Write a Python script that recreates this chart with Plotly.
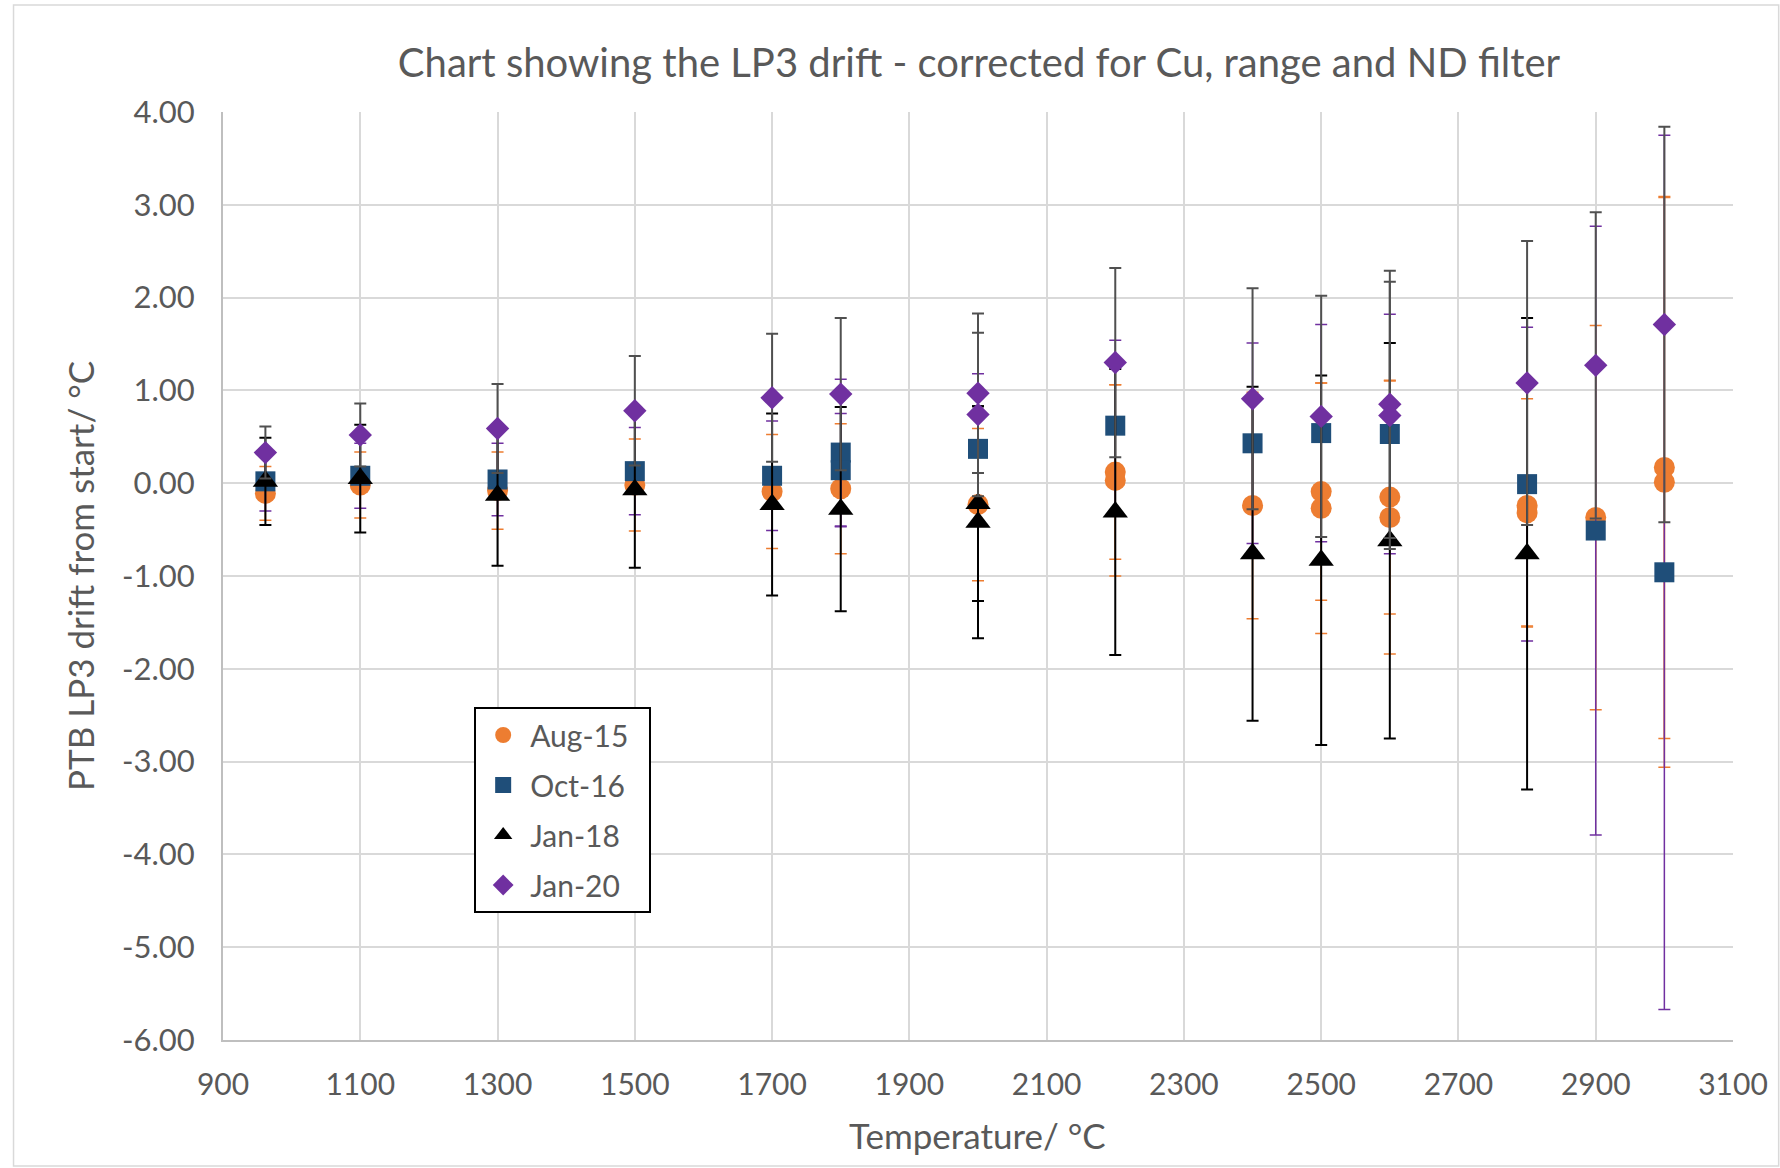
import plotly.graph_objects as go

# ── data ──────────────────────────────────────────────────────────────────────

# Aug-15 – orange circles, orange error bars
aug15_t = [961.78, 1100, 1300, 1500, 1700, 1800, 2000, 2200, 2200, 2400,
           2500, 2500, 2600, 2600, 2800, 2800, 2900, 3000, 3000]
aug15_y = [-0.11, -0.02, -0.08, -0.02, -0.09, -0.06, -0.23, 0.12, 0.03, -0.24,
           -0.09, -0.27, -0.15, -0.37, -0.24, -0.32, -0.37, 0.17, 0.01]
aug15_err = [0.29, 0.355, 0.415, 0.495, 0.615, 0.70, 0.82, 0.94, 1.03, 1.22,
             1.17, 1.35, 1.26, 1.47, 1.30, 1.23, 2.07, 2.92, 3.07]

# Oct-16 – dark blue squares, purple error bars
oct16_t = [961.78, 1100, 1300, 1500, 1700, 1800, 1800, 2000, 2200, 2400,
           2500, 2600, 2800, 2900, 3000]
oct16_y = [0.02, 0.08, 0.04, 0.13, 0.08, 0.33, 0.14, 0.37, 0.62, 0.43,
           0.54, 0.53, -0.01, -0.51, -0.96]
oct16_err = [0.32, 0.35, 0.39, 0.47, 0.59, 0.79, 0.61, 0.81, 0.92, 1.08,
             1.17, 1.29, 1.69, 3.28, 4.71]

# Jan-18 – black triangles, black error bars
jan18_t = [961.78, 1100, 1300, 1500, 1700, 1800, 2000, 2000, 2200, 2400,
           2500, 2600, 2800]
jan18_y = [0.02, 0.05, -0.13, -0.07, -0.23, -0.28, -0.22, -0.42, -0.31, -0.76,
           -0.83, -0.62, -0.76]
jan18_err = [0.47, 0.58, 0.76, 0.84, 0.98, 1.10, 1.05, 1.25, 1.54, 1.80,
             1.99, 2.13, 2.54]

# Jan-20 – purple diamonds, dark grey error bars
jan20_t = [961.78, 1100, 1300, 1500, 1700, 1800, 2000, 2000, 2200, 2400,
           2500, 2600, 2600, 2800, 2900, 3000]
jan20_y = [0.33, 0.52, 0.59, 0.78, 0.92, 0.96, 0.97, 0.74, 1.30, 0.91,
           0.72, 0.85, 0.73, 1.08, 1.27, 1.71]
jan20_err = [0.28, 0.34, 0.48, 0.59, 0.69, 0.82, 0.86, 0.88, 1.02, 1.19,
             1.30, 1.44, 1.44, 1.53, 1.65, 2.13]

y_ticks = [4, 3, 2, 1, 0, -1, -2, -3, -4, -5, -6]
y_tick_labels = ["4.00", "3.00", "2.00", "1.00", "0.00", "-1.00", "-2.00",
                 "-3.00", "-4.00", "-5.00", "-6.00"]

# ── style ─────────────────────────────────────────────────────────────────────

FONT = "Lato"
TEXT = "#595959"
GRID = "#d9d9d9"
PAD = "\u00a0\u00a0"  # keeps some room on the right inside the legend box

W, H = 1780, 1168
L, R, T, B = 223, 36, 112, 128
PW, PH = W - L - R, H - T - B


def px_x(x):
    return (x - L) / PW


def px_y(y):
    return 1 - (y - T) / PH


series = [
    ("Aug-15", aug15_t, aug15_y, aug15_err, "circle", 21, "#ED7D31", "#ED7D31", 1.5),
    ("Oct-16", oct16_t, oct16_y, oct16_err, "square", 20, "#1F4E79", "#7030A0", 1.5),
    ("Jan-18", jan18_t, jan18_y, jan18_err, "triangle-up", 22, "#000000", "#000000", 2),
    ("Jan-20", jan20_t, jan20_y, jan20_err, "diamond", 18, "#7030A0", "#505050", 2),
]

fig = go.Figure()
for name, t, y, err, symbol, size, color, err_color, err_w in series:
    fig.add_trace(go.Scatter(
        x=t,
        y=y,
        name=name + PAD,
        mode="markers",
        legendgroup=name,
        marker=dict(symbol=symbol, size=size, color=color),
        error_y=dict(type="data", array=err, symmetric=True,
                     color=err_color, thickness=err_w, width=6),
    ))

fig.update_layout(
    width=W,
    height=H,
    margin=dict(l=L, r=R, t=T, b=B),
    paper_bgcolor="white",
    plot_bgcolor="white",
    font=dict(family=FONT, size=30, color=TEXT),
    title=dict(
        text="Chart showing the LP3 drift - corrected for Cu, range and ND filter",
        font=dict(family=FONT, size=40, color=TEXT),
        xref="container", x=979 / W, xanchor="center",
        yref="container", y=1 - 63 / H, yanchor="middle",
    ),
    xaxis=dict(
        range=[900, 3100],
        tick0=900, dtick=200,
        showgrid=True, gridcolor=GRID, gridwidth=1.5,
        showline=True, linecolor="#bfbfbf", linewidth=2,
        zeroline=False,
        ticks="", ticklabelstandoff=17,
        tickfont=dict(size=30, color=TEXT),
    ),
    yaxis=dict(
        range=[-6, 4],
        tickvals=y_ticks, ticktext=y_tick_labels,
        showgrid=True, gridcolor=GRID, gridwidth=1.5,
        showline=True, linecolor="#bfbfbf", linewidth=2,
        zeroline=False,
        ticks="", ticklabelstandoff=20,
        tickfont=dict(size=31, color=TEXT),
    ),
    legend=dict(
        x=px_x(476), y=px_y(707), xanchor="left", yanchor="top",
        bgcolor="white", bordercolor="black", borderwidth=2,
        font=dict(size=30, color=TEXT),
        traceorder="grouped", tracegroupgap=8,
        itemsizing="trace", itemwidth=44,
    ),
    annotations=[
        dict(text="Temperature/ °C", xref="paper", yref="paper",
             x=px_x(983), y=px_y(1135), xanchor="center", yanchor="middle",
             showarrow=False, font=dict(size=35, color=TEXT)),
        dict(text="PTB LP3 drift from start/ °C", xref="paper", yref="paper",
             x=px_x(79), y=px_y(576), xanchor="center", yanchor="middle",
             textangle=-90, showarrow=False, font=dict(size=35, color=TEXT)),
    ],
    shapes=[
        # light frame around the whole chart
        dict(type="rect", xref="paper", yref="paper",
             x0=px_x(12), x1=px_x(1790), y0=px_y(1166), y1=px_y(5),
             line=dict(color=GRID, width=1.5), layer="below"),
    ],
)

fig.write_html("out.html", config={"displayModeBar": False},
               post_script="document.body.style.margin='0';")
